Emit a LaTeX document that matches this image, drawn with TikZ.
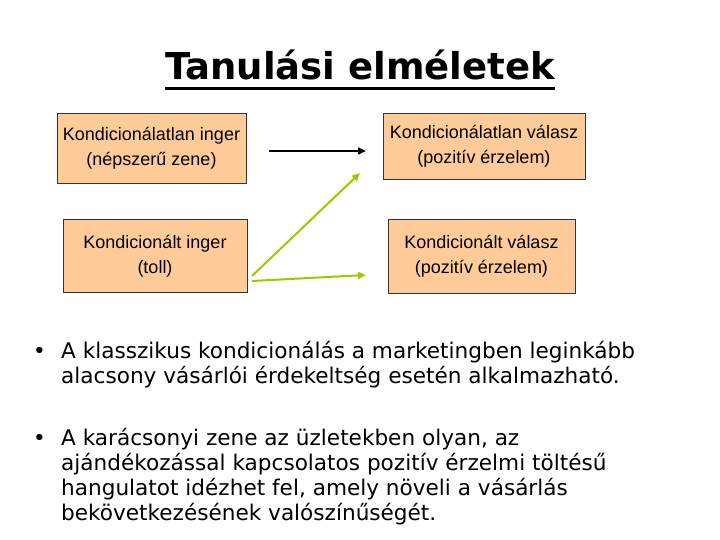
\documentclass[tikz,border=0pt]{standalone}
\usepackage{fontspec}
\setmainfont{Liberation Sans}
\newfontfamily\comicfont{DejaVu Sans}
\usetikzlibrary{arrows.meta}
\definecolor{peach}{HTML}{FFCC99}
\definecolor{leafgreen}{HTML}{99CC00}
\tikzset{
  box/.style={draw=black!80, line width=0.8pt, fill=peach, align=center, font=\fontsize{18}{25}\selectfont, inner sep=0pt},
  arr/.style={line width=2pt, -{Triangle[length=8pt,width=7pt]}},
  bline/.style={anchor=base west, inner sep=0pt, font=\comicfont\fontsize{21.6}{25}\selectfont},
}
\begin{document}
\begin{tikzpicture}[x=1pt,y=-1pt]
\useasboundingbox (0,0) rectangle (720,540);
% title
\node[inner sep=0pt, anchor=base, font=\comicfont\bfseries\fontsize{37}{42}\selectfont] (title) at (360,80) {Tanulási elméletek};
\draw[line width=3pt] (165,89) -- (555,89);
% boxes
\node[box, minimum width=189pt, minimum height=70pt] (ui) at (151.5,148) {Kondicionálatlan inger\\(népszerű zene)};
\node[box, minimum width=202pt, minimum height=66pt] (ur) at (484,146) {Kondicionálatlan válasz\\(pozitív érzelem)};
\node[box, minimum width=184pt, minimum height=73pt] (ci) at (155,256) {Kondicionált inger\\(toll)};
\node[box, minimum width=187pt, minimum height=74pt] (cr) at (481.5,256) {Kondicionált válasz\\(pozitív érzelem)};
% arrows
\coordinate (a1s) at (269,151);
\coordinate (a1e) at (366,151);
\draw[arr, black] (a1s) -- (a1e);
\coordinate (g1s) at (252,276);
\coordinate (g1e) at (360,173);
\coordinate (g2s) at (252,281);
\coordinate (g2e) at (366,275);
\draw[arr, leafgreen] (g1s) -- (g1e);
\draw[arr, leafgreen] (g2s) -- (g2e);
% bullets
\node[bline] (b1) at (33,358) {•};
\node[bline] (l1) at (61,358) {A klasszikus kondicionálás a marketingben leginkább};
\node[bline] (l2) at (61,383) {alacsony vásárlói érdekeltség esetén alkalmazható.};
\node[bline] (b2) at (33,445) {•};
\node[bline] (l3) at (61,445) {A karácsonyi zene az üzletekben olyan, az};
\node[bline] (l4) at (61,470) {ajándékozással kapcsolatos pozitív érzelmi töltésű};
\node[bline] (l5) at (61,495) {hangulatot idézhet fel, amely növeli a vásárlás};
\node[bline] (l6) at (61,520) {bekövetkezésének valószínűségét.};
\end{tikzpicture}
\end{document}
